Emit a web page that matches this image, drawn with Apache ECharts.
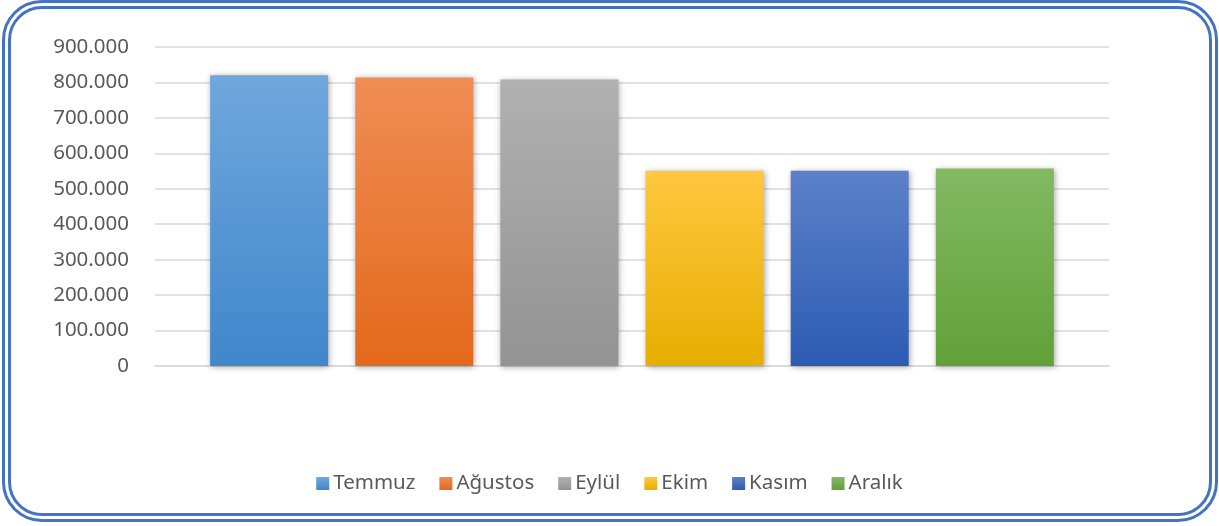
<!DOCTYPE html>
<html>
<head>
<meta charset="utf-8">
<script src="https://cdn.jsdelivr.net/npm/echarts@6/dist/echarts.min.js"></script>
<style>
	html,body{margin:0;padding:0;background:#fff;}
	#frame{position:absolute;left:2px;top:0px;width:1198px;height:504px;border:9px double #4472c4;border-radius:40px;}
	#chart{position:absolute;left:0;top:0;width:1219px;height:526px;}
</style>
</head>
<body>
<div id="frame"></div>
<div id="chart"></div>
<script>
	var months = ['Temmuz','Ağustos','Eylül','Ekim','Kasım','Aralık'];
	var values = [820000, 814000, 808000, 551000, 551000, 557000];
	var topColors = ['#70a7dd','#f08d55','#b1b1b1','#ffc840','#5c81c9','#83b963'];
	var bottomColors = ['#4087cb','#e3691b','#939393','#e6ae00','#2d5bb3','#62a038'];
	var category = [''];

	function fmt(v){
		return String(v).replace(/\B(?=(\d{3})+(?!\d))/g,'.');
	}

	var series = [];
	months.forEach(function(m,i){
		series.push({
			name:m,
			type:'bar',
			data:[values[i]],
			barWidth:118,
			barGap:'23%',
			itemStyle:{
				color:new echarts.graphic.LinearGradient(0,0,0,1,[
					{offset:0,color:topColors[i]},
					{offset:1,color:bottomColors[i]}
				]),
				shadowColor:'rgba(0,0,0,0.35)',
				shadowBlur:6,
				shadowOffsetX:1,
				shadowOffsetY:1
			}
		});
	});

	var option = {
		animation:false,
		color:topColors,
		grid:{left:155,right:110,top:47,bottom:160},
		legend:{
			bottom:27,
			left:'center',
			itemWidth:13,
			itemHeight:13,
			itemGap:24,
			icon:'rect',
			textStyle:{color:'#595959',fontSize:20.5,fontFamily:'Noto Sans',padding:[0,0,0,-1]},
			data:months
		},
		xAxis:{
			type:'category',
			data:category,
			axisLine:{lineStyle:{color:'#d9d9d9',width:1.5}},
			axisTick:{show:false},
			axisLabel:{show:false}
		},
		yAxis:{
			type:'value',
			min:0,
			max:900000,
			interval:100000,
			axisLine:{show:false},
			axisTick:{show:false},
			splitLine:{lineStyle:{color:'#d9d9d9',width:1.5}},
			axisLabel:{
				color:'#595959',
				fontSize:20.5,
				fontFamily:'Noto Sans',
				margin:26,
				formatter:fmt
			}
		},
		series:series
	};
	var myChart = echarts.init(document.getElementById('chart'));
	myChart.setOption(option);
</script>
</body>
</html>
